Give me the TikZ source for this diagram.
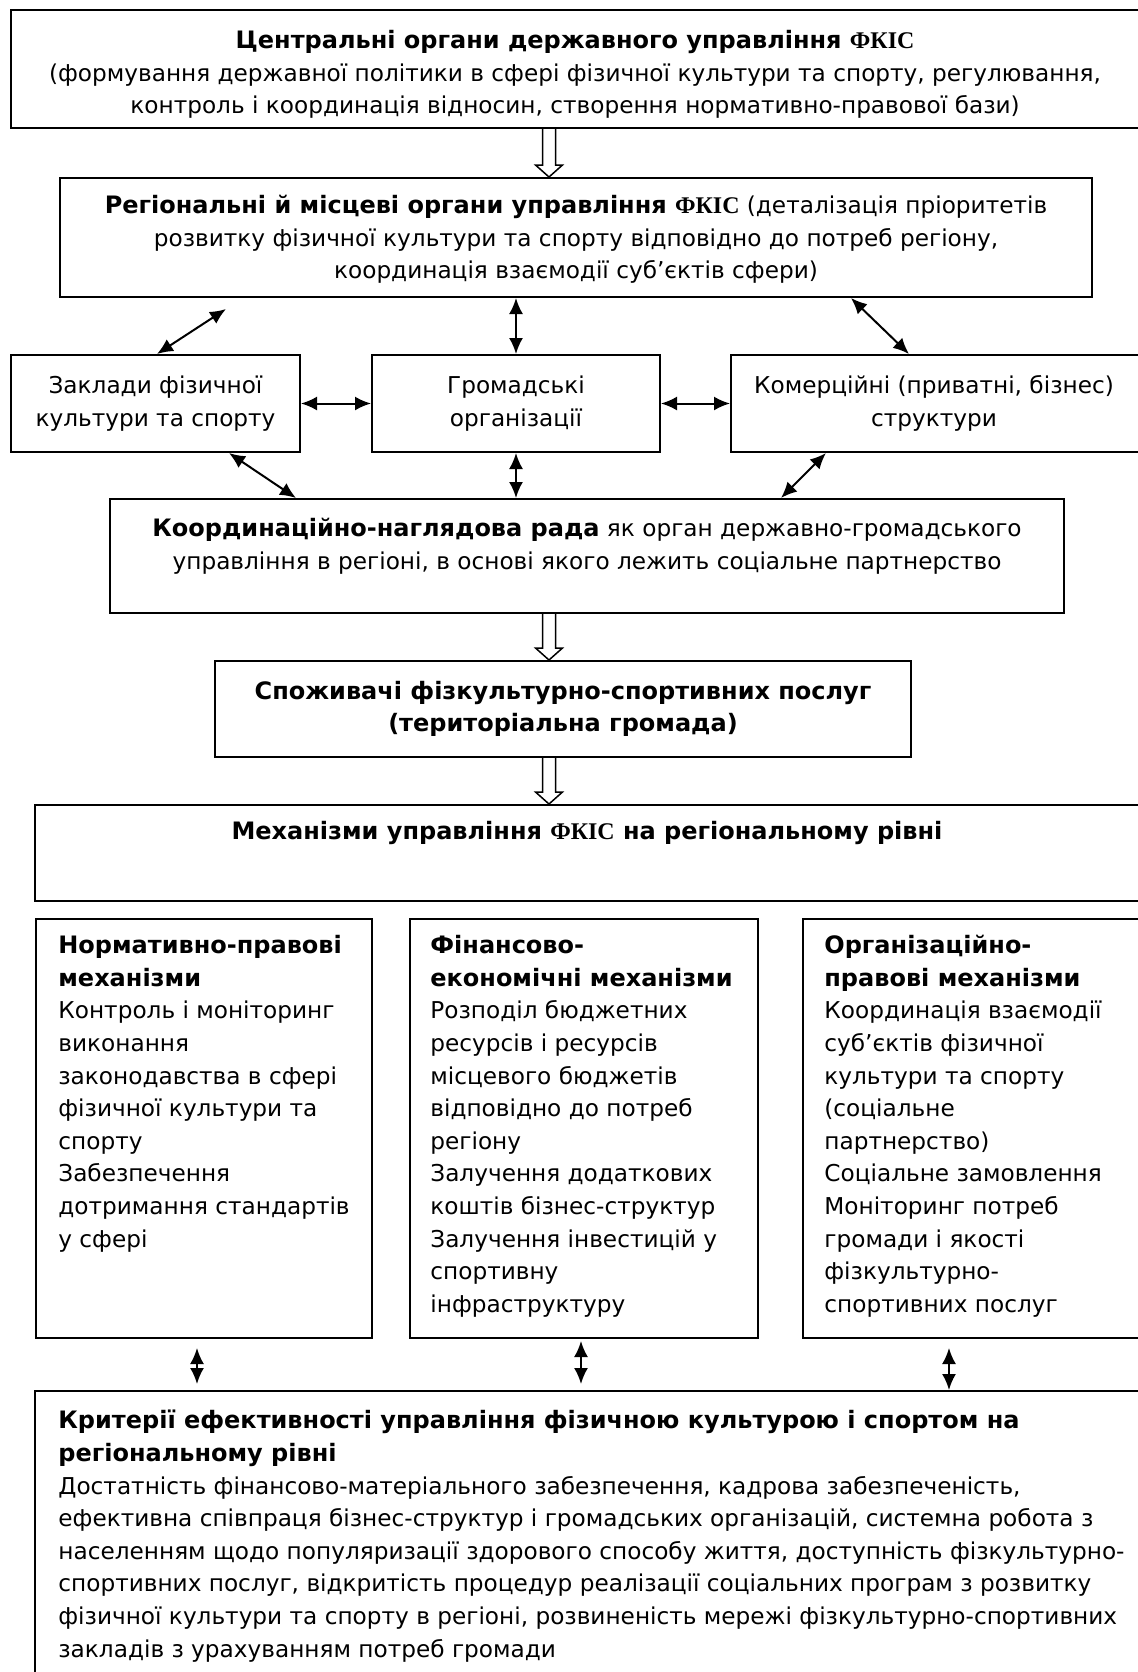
\documentclass[tikz,border=0pt]{standalone}
\usepackage{fontspec}
\setmainfont{DejaVu Sans}[BoldFeatures={Scale=1.034}]
\newfontfamily\serifbf{Liberation Serif}[Scale=1.03]
\usetikzlibrary{arrows.meta,calc,fit}
\newcommand{\FKIS}{{\serifbf ФКІС}}
\begin{document}
\begin{tikzpicture}[x=0.5pt,y=-0.5pt,
  box/.style={draw, line width=1pt, rectangle, inner sep=0pt},
  txt/.style={inner sep=0pt, font=\fontsize{11.6}{16.3}\selectfont},
  dbl/.style={{Latex[length=8pt,width=7pt]}-{Latex[length=8pt,width=7pt]}, line width=1pt},
  hollow/.style={draw, line width=0.75pt, line join=miter}]
\useasboundingbox (0,0) rectangle (1138,1672);
\clip (0,0) rectangle (1138,1672);
\fill[white] (0,0) rectangle (1138,1672);

% boxes
\node[box, fit={(11,10) (1150,128)}] (b1) {};
\node[box, fit={(60,178) (1092,297)}] (b2) {};
\node[box, fit={(11,355) (300,452)}] (z) {};
\node[box, fit={(372,355) (660,452)}] (h) {};
\node[box, fit={(731,355) (1150,452)}] (k) {};
\node[box, fit={(110,499) (1064,613)}] (c) {};
\node[box, fit={(215,661) (911,757)}] (s) {};
\node[box, fit={(35,805) (1150,901)}] (m) {};
\node[box, fit={(36,919) (372,1338)}] (ma) {};
\node[box, fit={(410,919) (758,1338)}] (mb) {};
\node[box, fit={(803,919) (1150,1338)}] (mc) {};
\node[box, fit={(35,1391) (1150,1690)}] (cr) {};

% texts
\node[txt, align=center, anchor=north] (t1) at (575,30) {\textbf{Центральні органи державного управління \FKIS}\\
(формування державної політики в сфері фізичної культури та спорту, регулювання,\\
контроль і координація відносин, створення нормативно-правової бази)};
\node[txt, align=center, anchor=north] (t2) at (576,195) {\textbf{Регіональні й місцеві органи управління \FKIS} (деталізація пріоритетів\\
розвитку фізичної культури та спорту відповідно до потреб регіону,\\
координація взаємодії суб’єктів сфери)};
\node[txt, align=center] (tz) at (z.center) {Заклади фізичної\\культури та спорту};
\node[txt, align=center] (th) at (h.center) {Громадські\\організації};
\node[txt, align=center] (tk) at (934,403.5) {Комерційні (приватні, бізнес)\\структури};
\node[txt, align=center, anchor=north] (tc) at (587,518) {\textbf{Координаційно-наглядова рада} як орган державно-громадського\\управління в регіоні, в основі якого лежить соціальне партнерство};
\node[txt, align=center, font=\fontsize{11.6}{16.3}\selectfont\bfseries] (ts) at (s.center) {Споживачі фізкультурно-спортивних послуг\\(територіальна громада)};
\node[txt, align=center, anchor=north] (tm) at (587,821) {\textbf{Механізми управління \FKIS{} на регіональному рівні}};
\node[txt, align=left, anchor=north west] (tma) at (58,935) {\textbf{Нормативно-правові}\\\textbf{механізми}\\Контроль і моніторинг\\виконання\\законодавства в сфері\\фізичної культури та\\спорту\\Забезпечення\\дотримання стандартів\\у сфері};
\node[txt, align=left, anchor=north west] (tmb) at (430,935) {\textbf{Фінансово-}\\\textbf{економічні механізми}\\Розподіл бюджетних\\ресурсів і ресурсів\\місцевого бюджетів\\відповідно до потреб\\регіону\\Залучення додаткових\\коштів бізнес-структур\\Залучення інвестицій у\\спортивну\\інфраструктуру};
\node[txt, align=left, anchor=north west] (tmc) at (824,935) {\textbf{Організаційно-}\\\textbf{правові механізми}\\Координація взаємодії\\суб’єктів фізичної\\культури та спорту\\(соціальне\\партнерство)\\Соціальне замовлення\\Моніторинг потреб\\громади і якості\\фізкультурно-\\спортивних послуг};
\node[txt, align=left, anchor=north west] (tcr) at (58,1410) {\textbf{Критерії ефективності управління фізичною культурою і спортом на}\\\textbf{регіональному рівні}\\Достатність фінансово-матеріального забезпечення, кадрова забезпеченість,\\ефективна співпраця бізнес-структур і громадських організацій, системна робота з\\населенням щодо популяризації здорового способу життя, доступність фізкультурно-\\спортивних послуг, відкритість процедур реалізації соціальних програм з розвитку\\фізичної культури та спорту в регіоні, розвиненість мережі фізкультурно-спортивних\\закладів з урахуванням потреб громади};

% hollow arrows
\coordinate (hx) at (549,0);
\newcommand{\hollowarrow}[2]{%
  \draw[hollow] let \p1=(#1.south -| hx), \p2=(#2.north -| hx) in
    (\x1-3.25pt,\y1) -- (\x1-3.25pt,\y2+6pt) -- (\x1-6.75pt,\y2+6pt) -- (\x2,\y2)
    -- (\x1+6.75pt,\y2+6pt) -- (\x1+3.25pt,\y2+6pt) -- (\x1+3.25pt,\y1);}
\hollowarrow{b1}{b2}
\hollowarrow{c}{s}
\hollowarrow{s}{m}

% double arrows
\draw[dbl] ($(b2.south west)+(167,11)$) -- ($(z.north west)+(147,0)$);
\draw[dbl] (b2.south -| h.north) -- (h.north);
\draw[dbl] ($(b2.south west)+(792,0)$) -- ($(k.north west)+(179,0)$);
\draw[dbl] (z.east) -- (h.west);
\draw[dbl] (h.east) -- (k.west |- h.east);
\draw[dbl] ($(z.south west)+(219,0)$) -- ($(c.north west)+(187,0)$);
\draw[dbl] (h.south) -- (c.north -| h.south);
\draw[dbl] ($(k.south west)+(96,0)$) -- ($(c.north west)+(672,0)$);

\coordinate (xa) at (197,0);
\coordinate (xb) at (581,0);
\coordinate (xc) at (949,0);
\draw[dbl] ($(ma.south -| xa)+(0,9)$) -- ($(cr.north -| xa)+(0,-6)$);
\draw[dbl] ($(mb.south -| xb)+(0,2)$) -- ($(cr.north -| xb)+(0,-6)$);
\draw[dbl] ($(mc.south -| xc)+(0,9)$) -- (cr.north -| xc);
\end{tikzpicture}
\end{document}
